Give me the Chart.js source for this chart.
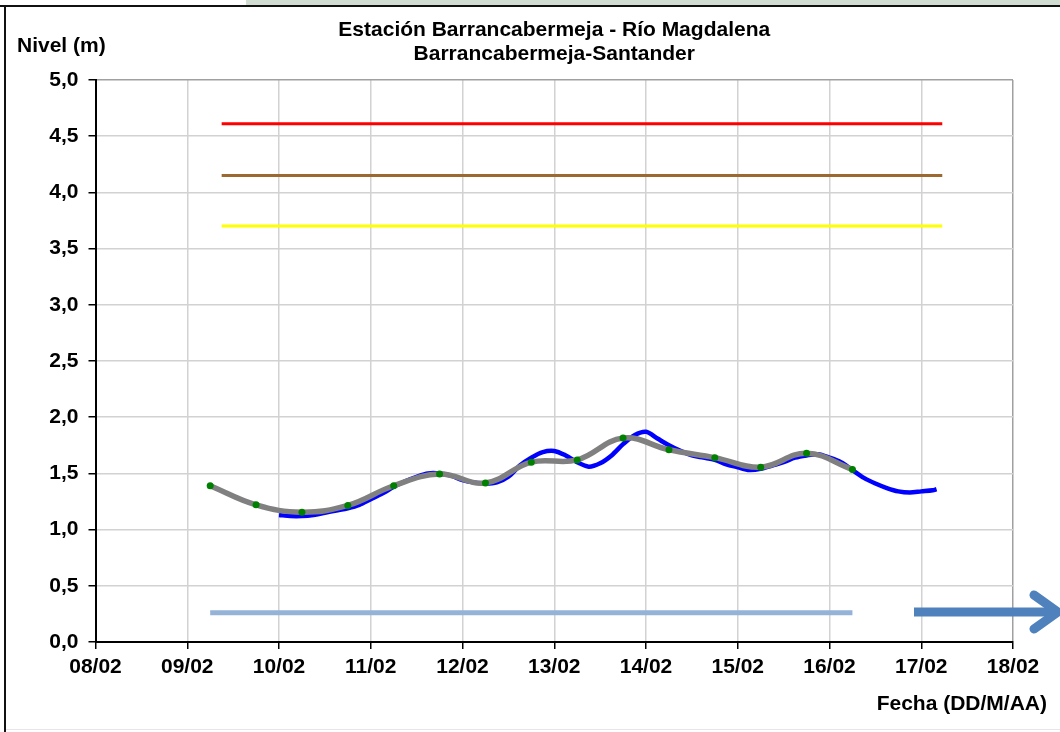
<!DOCTYPE html>
<html>
<head>
<meta charset="utf-8">
<script src="https://cdn.jsdelivr.net/npm/chart.js@4/dist/chart.umd.min.js"></script>
<style>
  html, body { margin: 0; padding: 0; background: #fff; }
  #wrap { position: relative; width: 1060px; height: 732px; overflow: hidden; background: #fff; }
  #c { position: absolute; left: 0; top: 0; }
  .green { position: absolute; left: 246px; top: 0; width: 820px; height: 5px; background: #d2ddd2; }
  .topline { position: absolute; left: 0; top: 5px; width: 1060px; height: 2px; background: #111; }
  .leftline { position: absolute; left: 4px; top: 5px; width: 2px; height: 727px; background: #111; }
  .botline { position: absolute; left: 6px; top: 729px; width: 1054px; height: 1px; background: #e6e6e6; }
  svg { position: absolute; left: 0; top: 0; }
</style>
</head>
<body>
<div id="wrap">
  <canvas id="c" width="1060" height="732"></canvas>
  <div class="green"></div>
  <div class="topline"></div>
  <div class="leftline"></div>
  <div class="botline"></div>
  <svg width="1060" height="732">
    <line x1="914" y1="612" x2="1052" y2="612" stroke="#4f81bd" stroke-width="9"/>
    <polyline points="1034,595 1058,612 1034,629" fill="none" stroke="#4f81bd" stroke-width="9" stroke-linecap="round" stroke-linejoin="miter"/>
  </svg>
</div>
<script>
// ---------- data ----------
const titleLines = ['Estación Barrancabermeja - Río Magdalena', 'Barrancabermeja-Santander'];
const yAxisTitle = 'Nivel (m)';
const xAxisTitle = 'Fecha (DD/M/AA)';
const xTickLabels = ['08/02','09/02','10/02','11/02','12/02','13/02','14/02','15/02','16/02','17/02','18/02'];

// observed level (blue)
const observedTimes = [
  '10/02 00:00','10/02 03:00','10/02 06:00','10/02 09:00','10/02 12:00','10/02 15:00','10/02 18:00','10/02 21:00',
  '11/02 00:00','11/02 03:00','11/02 06:00','11/02 09:00','11/02 12:00','11/02 15:00','11/02 18:00','11/02 21:00',
  '12/02 00:00','12/02 03:00','12/02 06:00','12/02 09:00','12/02 12:00','12/02 15:00','12/02 18:00','12/02 21:00',
  '13/02 00:00','13/02 03:00','13/02 06:00','13/02 09:00','13/02 12:00','13/02 15:00','13/02 18:00','13/02 21:00',
  '14/02 00:00','14/02 03:00','14/02 06:00','14/02 09:00','14/02 12:00','14/02 15:00','14/02 18:00','14/02 21:00',
  '15/02 00:00','15/02 03:00','15/02 06:00','15/02 09:00','15/02 12:00','15/02 15:00','15/02 18:00','15/02 21:00',
  '16/02 00:00','16/02 03:00','16/02 06:00','16/02 09:00','16/02 12:00','16/02 15:00','16/02 18:00','16/02 21:00',
  '17/02 00:00','17/02 03:00','17/02 04:00'
];
const observedLevels = [
  1.13,1.12,1.12,1.13,1.15,1.17,1.19,1.22,
  1.27,1.32,1.38,1.43,1.47,1.50,1.50,1.48,
  1.44,1.42,1.41,1.42,1.47,1.57,1.64,1.69,
  1.70,1.66,1.60,1.56,1.59,1.66,1.76,1.84,
  1.87,1.81,1.75,1.70,1.66,1.64,1.62,1.58,
  1.555,1.53,1.54,1.57,1.60,1.64,1.66,1.67,
  1.64,1.60,1.53,1.46,1.41,1.37,1.34,1.33,
  1.34,1.35,1.36
];

// 12-hourly level (grey line, green points)
const dailyTimes = ['09/02 06:00','09/02 18:00','10/02 06:00','10/02 18:00','11/02 06:00','11/02 18:00','12/02 06:00','12/02 18:00',
                    '13/02 06:00','13/02 18:00','14/02 06:00','14/02 18:00','15/02 06:00','15/02 18:00','16/02 06:00'];
const dailyLevels = [1.39,1.22,1.155,1.215,1.39,1.495,1.415,1.60,1.62,1.815,1.71,1.64,1.555,1.68,1.535];

// threshold levels
const thresholdStart = '09/02 09:00';
const thresholdEnd = '17/02 05:30';
const redLevel = 4.61;
const brownLevel = 4.15;
const yellowLevel = 3.70;
const lowLevel = 0.26;
const lowStart = '09/02 06:00';
const lowEnd = '16/02 06:00';

// ---------- helpers ----------
function toDays(s) {
  const [d, t] = s.split(' ');
  const day = parseInt(d.split('/')[0], 10);
  const [hh, mm] = t.split(':').map(Number);
  return (day - 8) + hh / 24 + mm / 1440;
}
const pts = (times, vals) => times.map((t, i) => ({ x: toDays(t), y: vals[i] }));
const hline = (a, b, v) => [{ x: toDays(a), y: v }, { x: toDays(b), y: v }];

const FONT = '"Liberation Sans", Arial, sans-serif';

const textPlugin = {
  id: 'texts',
  afterDraw(chart) {
    const ctx = chart.ctx;
    const area = chart.chartArea;
    ctx.save();
    ctx.fillStyle = '#000';
    ctx.font = 'bold 21px ' + FONT;
    ctx.textBaseline = 'middle';
    ctx.textAlign = 'center';
    const cx = (area.left + area.right) / 2;
    ctx.fillText(titleLines[0], cx, 30);
    ctx.fillText(titleLines[1], cx, 54);
    ctx.textAlign = 'left';
    ctx.fillText(yAxisTitle, 17, 46);
    ctx.textAlign = 'right';
    ctx.fillText(xAxisTitle, 1047, 704);
    ctx.restore();
  }
};

new Chart(document.getElementById('c'), {
  type: 'line',
  data: {
    datasets: [
      { label: 'Nivel 12h', data: pts(dailyTimes, dailyLevels), borderColor: '#808080', borderWidth: 5.5,
        tension: 0.4, pointRadius: 3.5, pointBackgroundColor: '#008000', pointBorderColor: '#008000',
        pointBorderWidth: 0, order: 1 },
      { label: 'Nivel observado', data: pts(observedTimes, observedLevels), borderColor: '#0000ff', borderWidth: 4.5,
        tension: 0.3, pointRadius: 0, order: 2 },
      { label: 'Roja', data: hline(thresholdStart, thresholdEnd, redLevel), borderColor: '#ff0000', borderWidth: 3, pointRadius: 0, order: 3 },
      { label: 'Naranja', data: hline(thresholdStart, thresholdEnd, brownLevel), borderColor: '#9c6a30', borderWidth: 3, pointRadius: 0, order: 3 },
      { label: 'Amarilla', data: hline(thresholdStart, thresholdEnd, yellowLevel), borderColor: '#ffff00', borderWidth: 3, pointRadius: 0, order: 3 },
      { label: 'Mínimo', data: hline(lowStart, lowEnd, lowLevel), borderColor: '#95b3d7', borderWidth: 5, pointRadius: 0, order: 3 }
    ]
  },
  options: {
    responsive: false,
    animation: false,
    devicePixelRatio: 1,
    layout: { padding: { left: 0, right: 47, top: 80, bottom: 0 } },
    plugins: { legend: { display: false }, tooltip: { enabled: false }, title: { display: false } },
    scales: {
      x: {
        type: 'linear', min: 0, max: 10, offset: false,
        afterFit: s => { s.height = 90; },
        ticks: { stepSize: 1, autoSkip: false, maxRotation: 0, padding: 6, color: '#000',
                 font: { family: FONT, size: 21, weight: 'bold' },
                 callback: v => xTickLabels[v] },
        grid: { color: c => (c.tick && c.tick.value === 10) ? '#a0a0a0' : '#d2d2d2', lineWidth: 1.5,
                tickLength: 7, tickColor: '#000', tickWidth: 1.5 },
        border: { color: '#000', width: 2 }
      },
      y: {
        min: 0, max: 5,
        afterFit: s => { s.width = 95.5; },
        ticks: { stepSize: 0.5, color: '#000', padding: 10,
                 font: { family: FONT, size: 21, weight: 'bold' },
                 callback: v => v.toFixed(1).replace('.', ',') },
        grid: { color: c => (c.tick && c.tick.value === 5) ? '#a0a0a0' : '#d2d2d2', lineWidth: 1.5,
                tickLength: 7, tickColor: '#000', tickWidth: 1.5 },
        border: { color: '#000', width: 2 }
      }
    }
  },
  plugins: [textPlugin]
});
</script>
</body>
</html>
